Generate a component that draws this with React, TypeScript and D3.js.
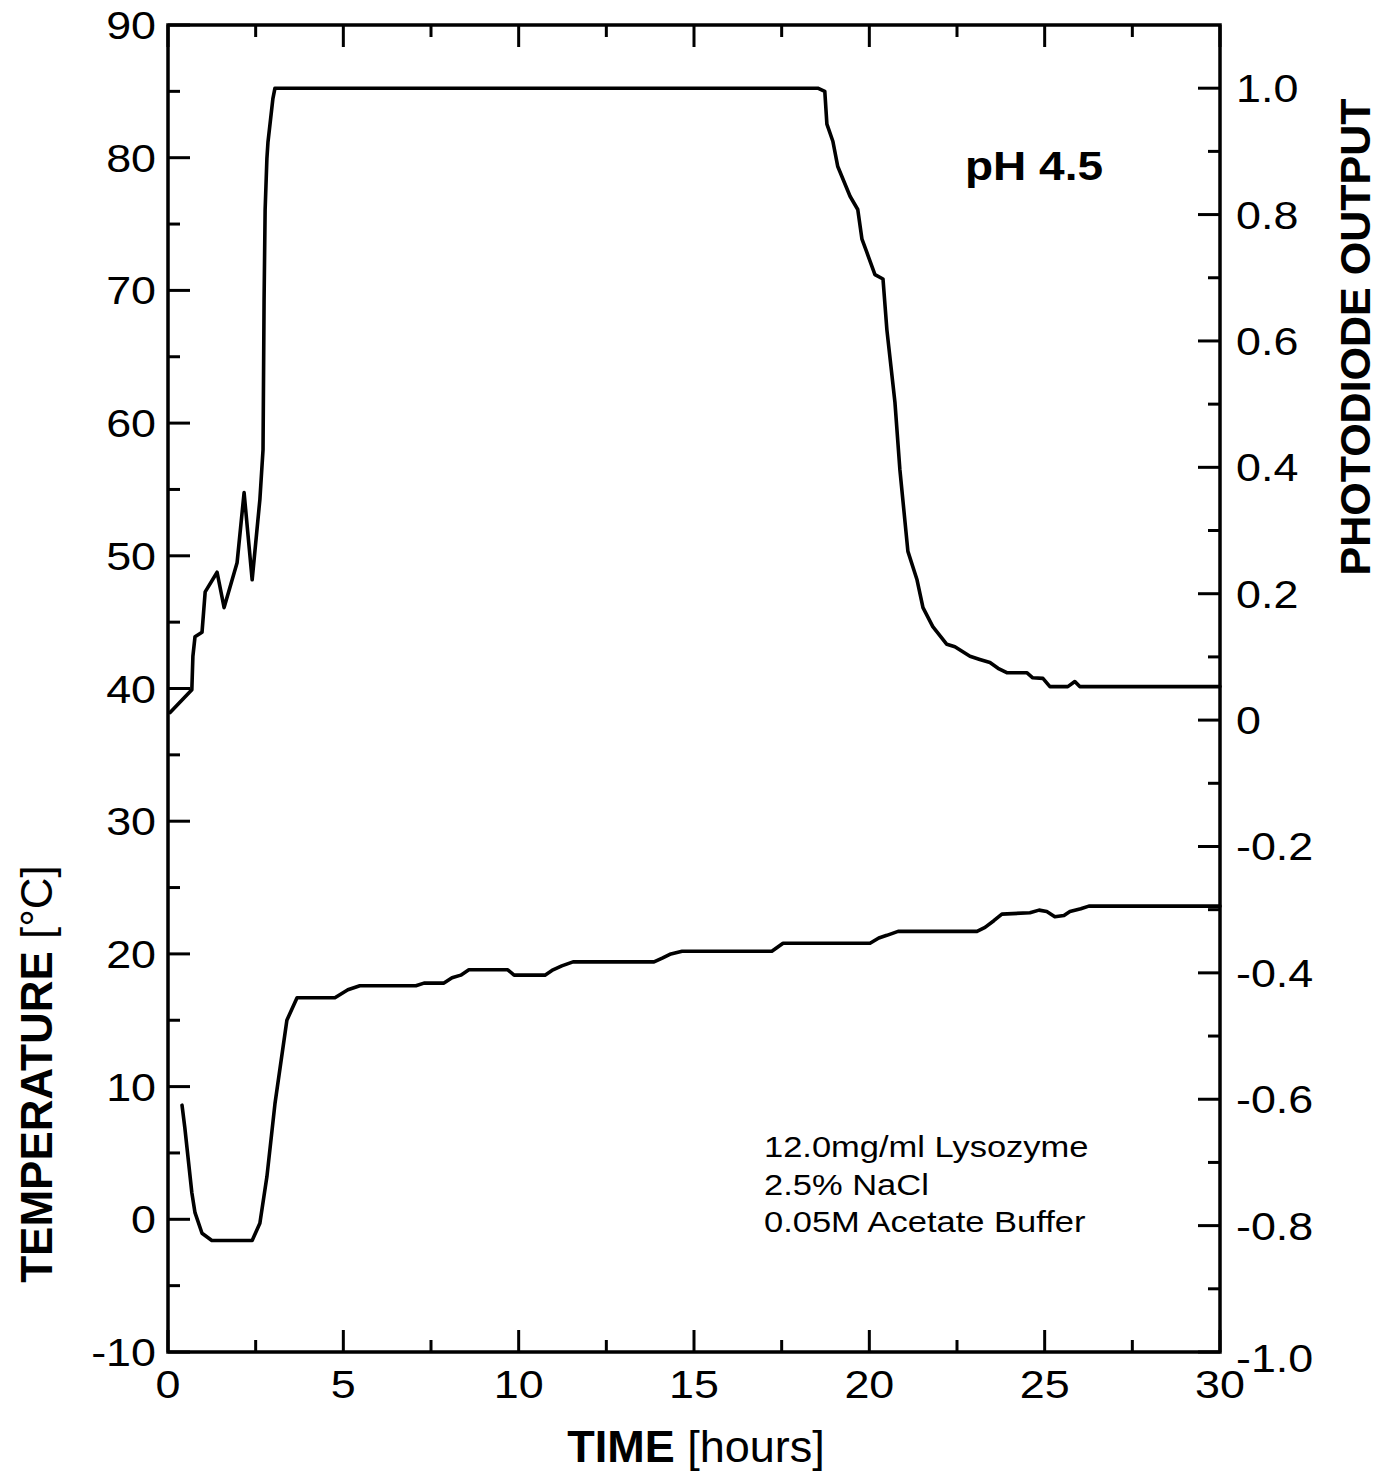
import React from "react";
import * as d3 from "d3";

// Photodiode output (upper trace, right axis)
const photoTime = [0.06, 0.68, 0.71, 0.77, 0.97, 1.06, 1.40, 1.60, 1.97, 2.17, 2.40, 2.62, 2.71, 2.74, 2.77, 2.82, 2.85, 2.99, 3.05, 18.53, 18.73, 18.79, 18.96, 19.10, 19.45, 19.67, 19.79, 19.93, 20.16, 20.39, 20.50, 20.73, 20.87, 21.10, 21.36, 21.53, 21.81, 22.21, 22.44, 22.87, 23.15, 23.44, 23.67, 23.92, 24.49, 24.66, 24.95, 25.15, 25.66, 25.86, 26.00, 30.0];
const photoValue = [0.012, 0.048, 0.101, 0.132, 0.139, 0.203, 0.234, 0.178, 0.249, 0.360, 0.222, 0.349, 0.428, 0.666, 0.808, 0.888, 0.914, 0.983, 1.0, 1.0, 0.995, 0.943, 0.916, 0.876, 0.829, 0.808, 0.761, 0.740, 0.705, 0.698, 0.618, 0.503, 0.397, 0.267, 0.222, 0.178, 0.148, 0.120, 0.116, 0.101, 0.096, 0.091, 0.082, 0.075, 0.075, 0.067, 0.066, 0.053, 0.053, 0.061, 0.053, 0.053];

// Temperature (lower trace, left axis)
const tempTime = [0.40, 0.48, 0.68, 0.77, 0.97, 1.25, 2.40, 2.62, 2.82, 3.05, 3.39, 3.68, 4.76, 5.13, 5.47, 7.07, 7.30, 7.87, 8.10, 8.35, 8.58, 9.69, 9.87, 10.75, 10.98, 11.23, 11.55, 13.86, 14.11, 14.34, 14.66, 17.22, 17.54, 20.02, 20.27, 20.50, 20.82, 23.07, 23.30, 23.55, 23.78, 24.58, 24.84, 25.06, 25.29, 25.55, 25.72, 26.03, 26.26, 27.77, 30.0];
const tempValue = [8.6, 6.9, 2.0, 0.5, -1.05, -1.6, -1.6, -0.3, 3.2, 8.7, 15.0, 16.7, 16.7, 17.3, 17.6, 17.6, 17.8, 17.8, 18.2, 18.4, 18.8, 18.8, 18.4, 18.4, 18.8, 19.1, 19.4, 19.4, 19.7, 20.0, 20.2, 20.2, 20.8, 20.8, 21.2, 21.4, 21.7, 21.7, 22.0, 22.5, 23.0, 23.1, 23.3, 23.2, 22.8, 22.9, 23.2, 23.4, 23.6, 23.6, 23.6];

const xTicks = [0, 5, 10, 15, 20, 25, 30];
const xMinorTicks = [2.5, 7.5, 12.5, 17.5, 22.5, 27.5];
const leftTicks = [-10, 0, 10, 20, 30, 40, 50, 60, 70, 80, 90];
const leftMinorTicks = [-5, 5, 15, 25, 35, 45, 55, 65, 75, 85];
const rightTicks = [-1.0, -0.8, -0.6, -0.4, -0.2, 0, 0.2, 0.4, 0.6, 0.8, 1.0];
const rightMinorTicks = [-0.9, -0.7, -0.5, -0.3, -0.1, 0.1, 0.3, 0.5, 0.7, 0.9];
const rightTickLabels = ["-1.0", "-0.8", "-0.6", "-0.4", "-0.2", "0", "0.2", "0.4", "0.6", "0.8", "1.0"];

const annotationLines = ["12.0mg/ml Lysozyme", "2.5% NaCl", "0.05M Acetate Buffer"];

const W = 1380;
const H = 1477;
const L = 168, R = 1220, T = 25, B = 1352;
const FONT = "'Liberation Sans', Arial, Helvetica, sans-serif";
const SX = 1.15;

export default function App() {
  const x = d3.scaleLinear().domain([0, 30]).range([L, R]);
  const yT = d3.scaleLinear().domain([-10, 90]).range([B, T]);
  const yP = d3.scaleLinear().domain([-1, 1.1]).range([B, T]);

  const photoLine = d3
    .line<number>()
    .x((_, i) => x(photoTime[i]))
    .y((d) => yP(d));
  const tempLine = d3
    .line<number>()
    .x((_, i) => x(tempTime[i]))
    .y((d) => yT(d));

  const major = 22;
  const minor = 12;
  const tickStyle = { stroke: "#000", strokeWidth: 3 };

  return (
    <svg
      width={W}
      height={H}
      style={{ position: "absolute", left: 0, top: 0, background: "#fff" }}
      fontFamily={FONT}
    >
      <rect x={0} y={0} width={W} height={H} fill="#fff" />
      {/* frame */}
      <rect x={L} y={T} width={R - L} height={B - T} fill="none" stroke="#000" strokeWidth={3.5} />

      {/* bottom & top ticks */}
      {xTicks.map((t) => (
        <g key={"xt" + t}>
          <line x1={x(t)} x2={x(t)} y1={B} y2={B - major} {...tickStyle} />
          <line x1={x(t)} x2={x(t)} y1={T} y2={T + major} {...tickStyle} />
          <text
            transform={`translate(${x(t)},${B + 46}) scale(${SX},1)`}
            textAnchor="middle"
            fontSize={39}
          >
            {t}
          </text>
        </g>
      ))}
      {xMinorTicks.map((t) => (
        <g key={"xm" + t}>
          <line x1={x(t)} x2={x(t)} y1={B} y2={B - minor} {...tickStyle} />
          <line x1={x(t)} x2={x(t)} y1={T} y2={T + minor} {...tickStyle} />
        </g>
      ))}

      {/* left ticks */}
      {leftTicks.map((v) => (
        <g key={"lt" + v}>
          <line x1={L} x2={L + major} y1={yT(v)} y2={yT(v)} {...tickStyle} />
          <text
            transform={`translate(${L - 12},${yT(v) + 14}) scale(${SX},1)`}
            textAnchor="end"
            fontSize={39}
          >
            {v}
          </text>
        </g>
      ))}
      {leftMinorTicks.map((v) => (
        <line key={"lm" + v} x1={L} x2={L + minor} y1={yT(v)} y2={yT(v)} {...tickStyle} />
      ))}

      {/* right ticks */}
      {rightTicks.map((v, i) => (
        <g key={"rt" + v}>
          <line x1={R} x2={R - major} y1={yP(v)} y2={yP(v)} {...tickStyle} />
          <text
            transform={`translate(${R + 16},${yP(v) + 14 + (i === 0 ? 6 : 0)}) scale(${SX},1)`}
            textAnchor="start"
            fontSize={39}
          >
            {rightTickLabels[i]}
          </text>
        </g>
      ))}
      {rightMinorTicks.map((v) => (
        <line key={"rm" + v} x1={R} x2={R - minor} y1={yP(v)} y2={yP(v)} {...tickStyle} />
      ))}

      {/* curves */}
      <path
        d={photoLine(photoValue) || ""}
        fill="none"
        stroke="#000"
        strokeWidth={3.6}
        strokeLinejoin="round"
        strokeLinecap="round"
      />
      <path
        d={tempLine(tempValue) || ""}
        fill="none"
        stroke="#000"
        strokeWidth={3.6}
        strokeLinejoin="round"
        strokeLinecap="round"
      />

      {/* axis titles */}
      <text x={(L + R) / 2 + 2} y={1462} textAnchor="middle" fontSize={45}>
        <tspan fontWeight="bold">TIME</tspan>
        <tspan> [hours]</tspan>
      </text>
      <text
        transform={`translate(52,1074) rotate(-90)`}
        textAnchor="middle"
        fontSize={44}
      >
        <tspan fontWeight="bold">TEMPERATURE</tspan>
        <tspan> [°C]</tspan>
      </text>
      <text
        transform={`translate(1370,337) rotate(-90)`}
        textAnchor="middle"
        fontSize={43}
        fontWeight="bold"
      >
        PHOTODIODE OUTPUT
      </text>

      {/* labels */}
      <text
        transform={`translate(965,180) scale(${SX},1)`}
        fontSize={40}
        fontWeight="bold"
      >
        pH 4.5
      </text>
      {annotationLines.map((s, i) => (
        <text
          key={s}
          transform={`translate(764,${1157 + i * 37.5}) scale(${SX},1)`}
          fontSize={30}
        >
          {s}
        </text>
      ))}
    </svg>
  );
}
